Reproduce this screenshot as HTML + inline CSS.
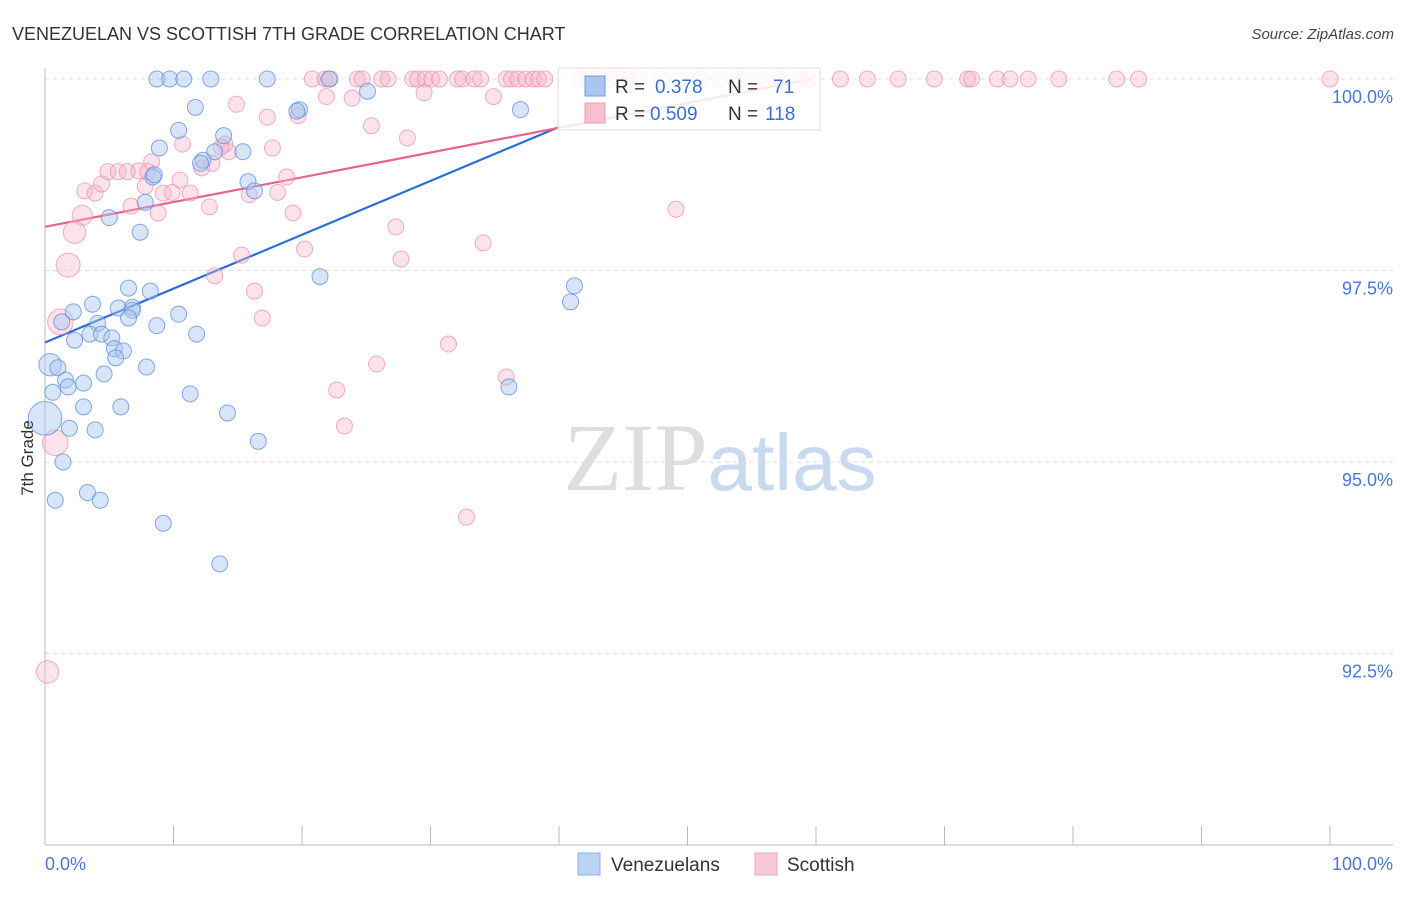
<!DOCTYPE html>
<html><head><meta charset="utf-8"><style>
body{margin:0;background:#fff;font-family:"Liberation Sans",sans-serif}
svg text{font-family:"Liberation Sans",sans-serif}
</style></head><body>
<svg id="chart" width="1406" height="892" viewBox="0 0 1406 892" xmlns="http://www.w3.org/2000/svg">
<text x="12" y="40" font-size="18" fill="#333">VENEZUELAN VS SCOTTISH 7TH GRADE CORRELATION CHART</text>
<text x="1394" y="39" font-size="15" fill="#444" text-anchor="end" font-style="italic">Source: ZipAtlas.com</text>
<text x="720" y="490" font-size="96" text-anchor="middle"><tspan fill="#dedede" font-family="Liberation Serif">ZIP</tspan><tspan fill="#c9d9ef" font-size="80">atlas</tspan></text>
<g id="grid"></g>
<g id="axes"></g>
<g id="lines"></g>
<g id="pts"></g>
<text transform="translate(33,458) rotate(-90)" font-size="17" fill="#333" text-anchor="middle">7th Grade</text>
<g>
<rect x="558" y="68" width="262" height="62" fill="#fff" fill-opacity="0.85" stroke="#ddd"/>
<rect x="585" y="76" width="20" height="20" fill="#a9c6f0" stroke="#6f9ae0"/>
<rect x="585" y="103" width="20" height="20" fill="#f7c0d0" stroke="#ee9ab3"/>
<text x="615" y="93" font-size="19" fill="#333">R =</text>
<text x="655" y="93" font-size="19" fill="#3a6fd0">0.378</text>
<text x="728" y="93" font-size="19" fill="#333">N =</text>
<text x="773" y="93" font-size="19" fill="#3a6fd0">71</text>
<text x="615" y="120" font-size="19" fill="#333">R =</text>
<text x="650" y="120" font-size="19" fill="#3a6fd0">0.509</text>
<text x="728" y="120" font-size="19" fill="#333">N =</text>
<text x="765" y="120" font-size="19" fill="#3a6fd0">118</text>
</g>
<g>
<rect x="578" y="853" width="22" height="22" fill="#bcd3f5" stroke="#8db0ea"/>
<text x="611" y="871" font-size="19" fill="#333">Venezuelans</text>
<rect x="755" y="853" width="22" height="22" fill="#f9c8d6" stroke="#f0a4ba"/>
<text x="787" y="871" font-size="19" fill="#333">Scottish</text>
</g>
</svg>
<script>
const blueX=[8.7,9.7,10.8,12.9,17.3,22.1,25.1,37.0,11.7,10.4,13.9,19.8,8.9,13.2,15.4,12.3,12.1,8.4,15.8,16.3,7.8,5.0,7.4,21.4,41.2,40.9,6.5,8.2,3.7,5.7,6.8,2.2,1.3,4.1,10.4,6.8,6.5,3.5,2.3,4.4,11.8,5.2,5.4,6.1,5.5,8.7,0.4,1.0,7.9,1.6,3.0,4.6,1.8,11.3,0.6,3.0,5.9,14.2,0.0,1.9,3.9,16.6,1.4,0.8,3.3,4.3,9.2,13.6,36.1,19.6,8.5];
const blueY=[100,100,100,100,100,100,99.84,99.6,99.63,99.33,99.26,99.6,99.1,99.05,99.05,98.94,98.9,98.72,98.66,98.54,98.39,98.19,98.0,97.42,97.3,97.09,97.27,97.23,97.06,97.01,97.02,96.96,96.83,96.81,96.93,96.98,96.88,96.67,96.59,96.67,96.67,96.62,96.48,96.45,96.36,96.78,96.27,96.23,96.24,96.07,96.03,96.15,95.98,95.89,95.91,95.72,95.72,95.64,95.57,95.44,95.42,95.27,95.0,94.5,94.6,94.5,94.2,93.67,95.98,99.58,98.75];
const blueS=[1,1,1,1,1,1,1,1,1,1,1,1,1,1,1,1,1,1,1,1,1,1,1,1,1,1,1,1,1,1,1,1,1,1,1,1,1,1,1,1,1,1,1,1,1,1,1.4,1,1,1,1,1,1,1,1,1,1,1,2.1,1,1,1,1,1,1,1,1,1,1,1,1];
const pinkX=[20.8,21.8,22.2,24.3,24.7,26.2,26.7,28.6,29.0,29.6,30.1,30.7,32.1,32.5,33.4,33.9,35.9,36.3,36.8,37.4,38.0,38.4,38.9,41.6,42.4,43.2,44.0,44.7,45.5,46.3,47.9,49.4,51.0,52.5,54.1,55.6,57.2,58.8,59.4,61.9,64.0,66.4,69.2,71.8,72.1,74.1,75.1,76.5,78.9,83.4,85.1,100,
21.9,23.9,29.5,34.9,14.9,17.3,25.4,19.7,28.2,10.7,14.0,17.7,8.3,4.9,5.7,6.4,7.3,8.0,12.2,14.3,13.7,7.8,18.8,10.5,11.3,9.2,9.9,15.9,18.1,12.8,6.7,8.8,3.1,3.9,4.4,19.3,49.1,2.9,2.3,27.3,15.3,20.2,34.1,27.7,1.8,13.2,16.3,16.9,31.4,1.2,25.8,35.9,22.7,23.3,32.8,0.8,0.2,13.0];
const pinkY=[100,100,100,100,100,100,100,100,100,100,100,100,100,100,100,100,100,100,100,100,100,100,100,100,100,100,100,100,100,100,100,100,100,100,100,100,100,100,100,100,100,100,100,100,100,100,100,100,100,100,100,100,
99.77,99.75,99.82,99.77,99.67,99.5,99.39,99.52,99.23,99.15,99.15,99.1,98.92,98.79,98.79,98.79,98.8,98.79,98.84,99.05,99.11,98.6,98.72,98.68,98.51,98.51,98.52,98.49,98.52,98.33,98.34,98.25,98.54,98.51,98.63,98.25,98.3,98.22,98.0,98.07,97.7,97.78,97.86,97.65,97.57,97.43,97.23,96.88,96.54,96.83,96.28,96.11,95.94,95.47,94.28,95.25,92.26,98.9];
const pinkBig={89:1.25,90:1.4,96:1.5,101:1.6,107:1.6,108:1.4};
const yTicks=[100,97.5,95,92.5];
const yTickLabels=["100.0%","97.5%","95.0%","92.5%"];
const blueLine=[[0,96.56],[40.1,99.38]];
const pinkLine=[[0,98.07],[59.7,100]];
const X0=45,X1=1330,YT=79,YB=845;
const sx=v=>X0+(X1-X0)*v/100;
const sy=v=>YT+(100-v)*(YB-YT)/10;
const NS="http://www.w3.org/2000/svg";
function mk(p,t,a){const e=document.createElementNS(NS,t);for(const k in a)e.setAttribute(k,a[k]);p.appendChild(e);return e;}
const grid=document.getElementById('grid'),axes=document.getElementById('axes');
yTicks.forEach((t,i)=>{
 const l=mk(grid,'line',{x1:X0,x2:1393,y1:sy(t),y2:sy(t),stroke:'#ddd','stroke-dasharray':'4,4'});
 
 
 const tx=mk(axes,'text',{x:1393,y:sy(t)+24,'font-size':18,fill:'#4a78d0','text-anchor':'end'});
 tx.textContent=yTickLabels[i];
 
 
});
mk(axes,'line',{x1:X0,x2:X0,y1:68,y2:YB,stroke:'#bbb'});
mk(axes,'line',{x1:X0,x2:1393,y1:YB,y2:YB,stroke:'#bbb'});
for(let k=1;k<=10;k++){const t=mk(axes,'line',{x1:sx(k*10),x2:sx(k*10),y1:YB,y2:826,stroke:'#bbb'});
 
 }
const xl0=mk(axes,'text',{x:45,y:870,'font-size':18,fill:'#4a78d0'});xl0.textContent='0.0%';


const xl1=mk(axes,'text',{x:1393,y:870,'font-size':18,fill:'#4a78d0','text-anchor':'end'});xl1.textContent='100.0%';


const pts=document.getElementById('pts');
pinkX.forEach((x,i)=>{const r=8*(pinkBig[i]||1);
 const c=mk(pts,'circle',{cx:sx(x),cy:sy(pinkY[i]),r:r,fill:'#f7b6ca','fill-opacity':0.4,stroke:'#ec8fac','stroke-opacity':0.7,'stroke-width':1});
 
 });
blueX.forEach((x,i)=>{
 const c=mk(pts,'circle',{cx:sx(x),cy:sy(blueY[i]),r:8*blueS[i],fill:'#a9c6f0','fill-opacity':0.45,stroke:'#5b8ddc','stroke-opacity':0.75,'stroke-width':1});
 
 });
const lines=document.getElementById('lines');
const bl=mk(lines,'line',{x1:sx(blueLine[0][0]),y1:sy(blueLine[0][1]),x2:sx(blueLine[1][0]),y2:sy(blueLine[1][1]),stroke:'#2a6fd6','stroke-width':2.2});


const pl=mk(lines,'line',{x1:sx(pinkLine[0][0]),y1:sy(pinkLine[0][1]),x2:sx(pinkLine[1][0]),y2:sy(pinkLine[1][1]),stroke:'#e8628e','stroke-width':2.2});


</script>
</body></html>
